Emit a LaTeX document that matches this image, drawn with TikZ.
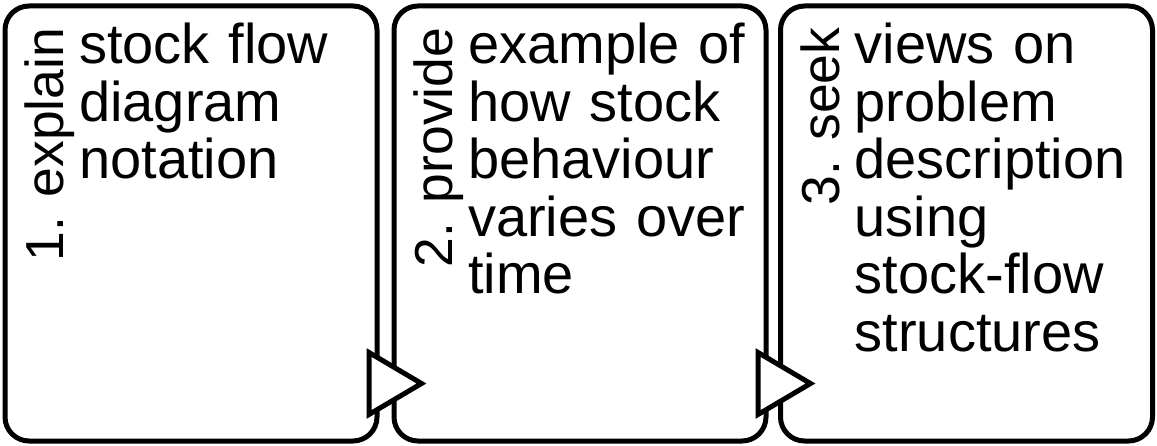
\documentclass[tikz,border=0pt]{standalone}
\usepackage{fontspec}
\setmainfont{Liberation Sans}
\usetikzlibrary{calc}

\begin{document}
\begin{tikzpicture}[x=1pt, y=1pt,
		stage/.style={draw=black, line width=5pt, rounded corners=24pt, inner sep=0pt, minimum width=372pt, minimum height=435pt},
		steplabel/.style={rotate=90, anchor=base east, inner sep=0pt, font=\fontsize{53.5}{57.6}\selectfont},
		stagetext/.style={anchor=base west, inner sep=0pt, text width=300pt, align=left, font=\fontsize{56}{57.6}\selectfont},
		flowtip/.style={draw=black, fill=white, line width=5pt}]
			%%%%% START %%%%%
			
			\useasboundingbox (0, 0) rectangle (1157, 445);
			
			\node[stage] (box1) at (191, 221.5) {};
			\node[stage] (box2) at (580, 221.5) {};
			\node[stage] (box3) at (966.5, 221.5) {};
			
			\node[steplabel] (lab1) at ($(box1.north west)+(61, -24)$) {1. explain};
			\node[steplabel] (lab2) at ($(box2.north west)+(61, -24)$) {2. provide};
			\node[steplabel] (lab3) at ($(box3.north west)+(61, -24)$) {3. seek};
			
			\node[stagetext] (txt1) at ($(box1.north west)+(76.5, -60)$) {stock flow\\diagram\\notation};
			\node[stagetext] (txt2) at ($(box2.north west)+(76.5, -60)$) {example of\\how stock\\behaviour\\varies over\\time};
			\node[stagetext] (txt3) at ($(box3.north west)+(76.5, -60)$) {views on\\problem\\description\\using\\stock-flow\\structures};
			
			\draw[flowtip] ($(box1.south east)+(-10.5, 91)$) -- ($(box1.south east)+(42, 60)$) -- ($(box1.south east)+(-10.5, 29)$) -- cycle;
			\draw[flowtip] ($(box2.south east)+(-10.5, 91)$) -- ($(box2.south east)+(42, 60)$) -- ($(box2.south east)+(-10.5, 29)$) -- cycle;
			
			%%%%% END %%%%%
\end{tikzpicture}
\end{document}
